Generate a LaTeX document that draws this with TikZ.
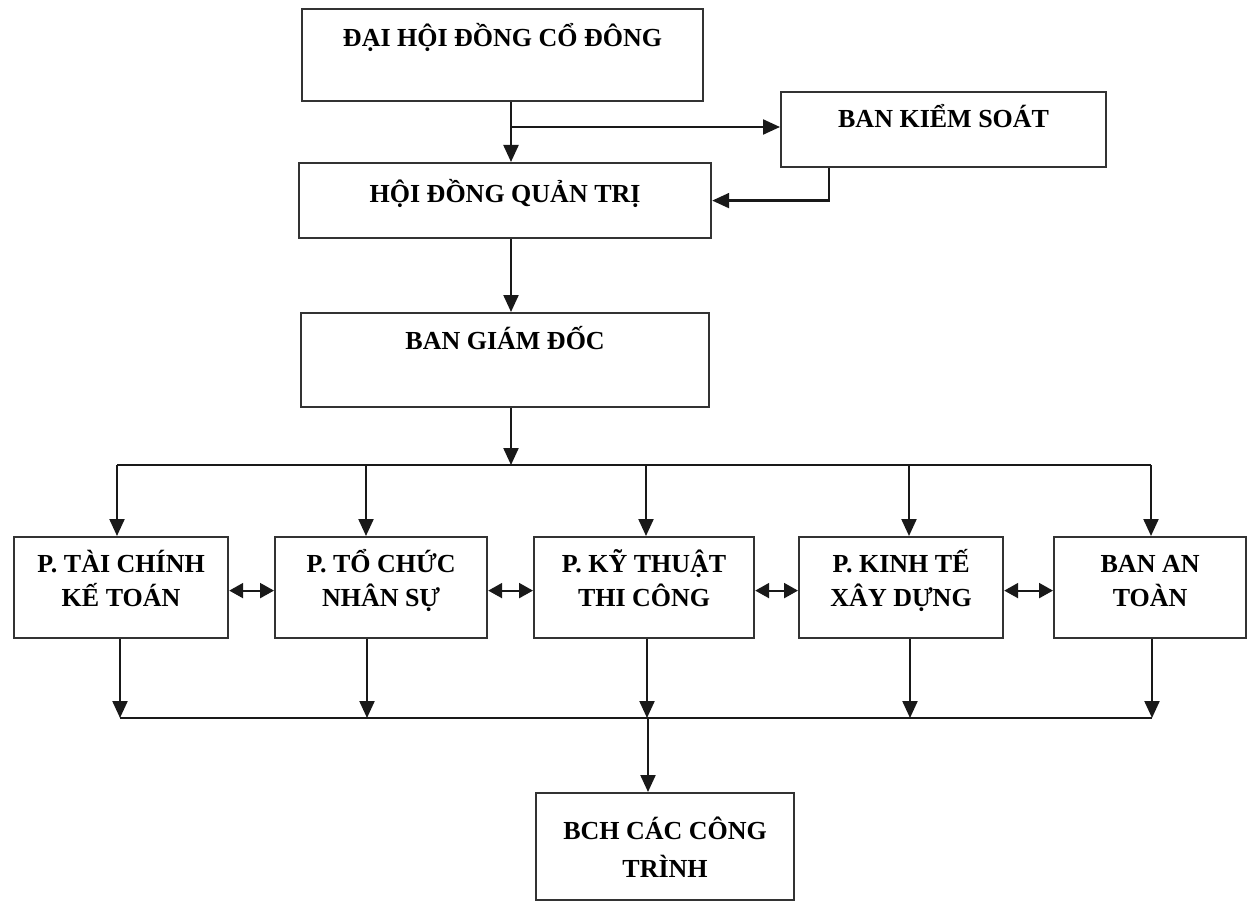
\documentclass[tikz,border=0pt]{standalone}
\usepackage{fontspec}
\setmainfont{Liberation Serif}
\usepackage{tikz}
\usetikzlibrary{positioning,arrows.meta}

\begin{document}
\begin{tikzpicture}[x=1pt, y=-1pt,
    rectnode/.style={rectangle, draw=black!80, line width=2.2pt, inner sep=0pt, anchor=north west, align=center, font=\fontsize{26}{34}\selectfont\bfseries},
    plain/.style={draw=black!90, line width=2.2pt},
    link/.style={plain, -{Triangle[width=15pt,length=17pt]}},
    twoway/.style={plain, {Triangle[width=15pt,length=14pt]}-{Triangle[width=15pt,length=14pt]}}
    ]
        \useasboundingbox (0,0) rectangle (1252,901);

        %Nodes
        \node[rectnode, minimum width=401pt, text height=37.5pt, text depth=54.5pt]
            (dhd) at (301,8) {ĐẠI HỘI ĐỒNG CỔ ĐÔNG};
        \node[rectnode, minimum width=325pt, text height=35.5pt, text depth=39.5pt]
            (bks) at (780,91) {BAN KIỂM SOÁT};
        \node[rectnode, minimum width=412pt, text height=39.5pt, text depth=35.5pt]
            (hdqt) at (298,162) {HỘI ĐỒNG QUẢN TRỊ};
        \node[rectnode, minimum width=408pt, text height=36.5pt, text depth=57.5pt]
            (bgd) at (300,312) {BAN GIÁM ĐỐC};

        \node[rectnode, minimum width=214pt, text height=69.5pt, text depth=31.5pt]
            (tckt) at (13,536) {P. TÀI CHÍNH\\KẾ TOÁN};
        \node[rectnode, minimum width=212pt, text height=69.5pt, text depth=31.5pt]
            (tcns) at (274,536) {P. TỔ CHỨC\\NHÂN SỰ};
        \node[rectnode, minimum width=220pt, text height=69.5pt, text depth=31.5pt]
            (ktc) at (533,536) {P. KỸ THUẬT\\THI CÔNG};
        \node[rectnode, minimum width=204pt, text height=69.5pt, text depth=31.5pt]
            (ktxd) at (798,536) {P. KINH TẾ\\XÂY DỰNG};
        \node[rectnode, minimum width=192pt, text height=69.5pt, text depth=31.5pt]
            (bat) at (1053,536) {BAN AN\\TOÀN};

        \node[rectnode, minimum width=258pt, text height=84.5pt, text depth=22.5pt,
              font=\fontsize{26}{38}\selectfont\bfseries]
            (bch) at (535,792) {BCH CÁC CÔNG\\TRÌNH};

        %Lines
        \coordinate (spine) at (511,0);
        \coordinate (ksx) at (829,0);
        \coordinate (split) at (511,127);
        \draw[link] (dhd.south -| spine) -- (hdqt.north -| spine);
        \draw[link] (split) -- (split -| bks.west);
        \draw[link] (bks.south -| ksx) |- (hdqt.east);
        \draw[link] (hdqt.south -| spine) -- (bgd.north -| spine);

        \coordinate (busA) at (117,465);
        \coordinate (busB) at (1151,465);
        \draw[link] (bgd.south -| spine) -- (busA -| spine);
        \draw[plain] (busA) -- (busB);
        \foreach \n/\x in {tckt/117, tcns/366, ktc/646, ktxd/909, bat/1151}
            \draw[link] (busA -| \x,0) -- (\n.north -| \x,0);

        \foreach \a/\b in {tckt/tcns, tcns/ktc, ktc/ktxd, ktxd/bat}
            \draw[twoway] ([yshift=-3pt]\a.east) -- ([yshift=-3pt]\b.west);

        \coordinate (busC) at (120,718);
        \coordinate (busD) at (1152,718);
        \foreach \n/\x in {tckt/120, tcns/367, ktc/647, ktxd/910, bat/1152}
            \draw[link] (\n.south -| \x,0) -- (busC -| \x,0);
        \draw[plain] (busC) -- (busD);
        \draw[link] (busC -| 648,0) -- (bch.north -| 648,0);
    \end{tikzpicture}
\end{document}
